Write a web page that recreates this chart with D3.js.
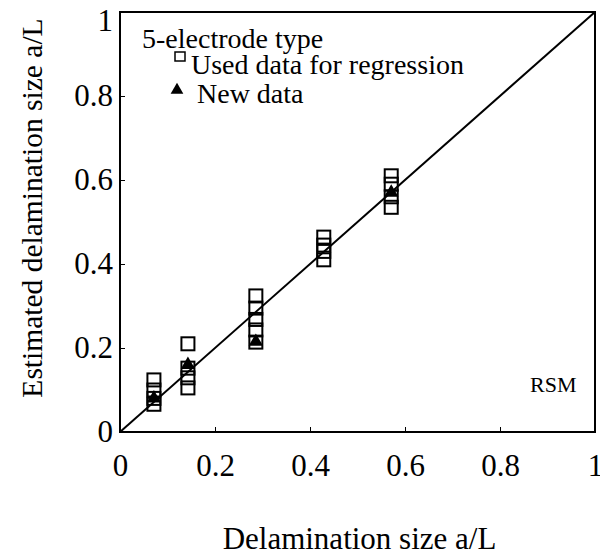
<!DOCTYPE html>
<html>
<head>
<meta charset="utf-8">
<script src="https://cdn.jsdelivr.net/npm/d3@7"></script>
<style>
  body { margin: 0; background: #fff; }
</style>
</head>
<body>
<div id="chart"></div>
<script>
// Delamination size a/L (x) for the regression data and the new data
let usedSize = [0.0714, 0.0714, 0.0714, 0.0714,
                0.143, 0.143, 0.143, 0.143,
                0.286, 0.286, 0.286, 0.286, 0.286,
                0.429, 0.429, 0.429, 0.429,
                0.571, 0.571, 0.571, 0.571];
let usedEstimate = [0.124, 0.100, 0.080, 0.066,
                    0.210, 0.152, 0.129, 0.105,
                    0.324, 0.295, 0.268, 0.243, 0.214,
                    0.464, 0.445, 0.430, 0.410,
                    0.610, 0.590, 0.560, 0.535];
let newSize = [0.0714, 0.143, 0.286, 0.571];
let newEstimate = [0.080, 0.160, 0.215, 0.570];
let tickValues = [0, 0.2, 0.4, 0.6, 0.8, 1];

let serif = "'Liberation Serif', 'Times New Roman', Times, 'DejaVu Serif', serif";

function drawChart(width, height, selector) {

	let margin = { top: 12, left: 120, right: 5, bottom: 126 };
	let chartWidth = width - margin.left - margin.right;
	let chartHeight = height - margin.top - margin.bottom;

	let xPositionScale = d3.scaleLinear()
		.domain([0, 1])
		.range([0, chartWidth]);

	let yPositionScale = d3.scaleLinear()
		.domain([0, 1])
		.range([chartHeight, 0]);

	let svg = d3.select(selector)
		.append("svg")
		.attr("width", width)
		.attr("height", height)
		.attr("font-family", serif);

	let chart = svg.append("g")
		.attr("transform", "translate(" + margin.left + "," + margin.top + ")");

	// Frame
	chart.append("rect")
		.attr("width", chartWidth)
		.attr("height", chartHeight)
		.attr("fill", "none")
		.attr("stroke", "#000")
		.attr("stroke-width", 2);

	let fmt = d => d === 0 || d === 1 ? d3.format("d")(d) : d3.format(".1f")(d);

	// Inward ticks
	let xAxis = d3.axisBottom(xPositionScale)
		.tickValues(tickValues)
		.tickSize(-5)
		.tickPadding(22)
		.tickFormat(fmt);

	chart.append("g")
		.attr("class", "axis x-axis")
		.attr("transform", "translate(0," + chartHeight + ")")
		.call(xAxis);

	let yAxis = d3.axisLeft(yPositionScale)
		.tickValues(tickValues)
		.tickSize(-5)
		.tickPadding(7)
		.tickFormat(fmt);

	chart.append("g")
		.attr("class", "axis y-axis")
		.call(yAxis);

	chart.selectAll(".axis").attr("font-family", serif).attr("font-size", 31);
	chart.selectAll(".axis .domain").remove();
	chart.selectAll(".axis line").attr("stroke", "#000").attr("stroke-width", 1);
	chart.selectAll(".axis text").attr("fill", "#000");

	// Keep the top "1" inside the picture
	chart.selectAll(".y-axis .tick text")
		.filter(d => d === 1)
		.attr("dy", "0.6em");

	// 1:1 line
	let line = d3.line()
		.x(d => xPositionScale(d))
		.y(d => yPositionScale(d));

	chart.append("path")
		.attr("d", line([0, 1]))
		.attr("fill", "none")
		.attr("stroke", "#000")
		.attr("stroke-width", 2);

	// Regression data, open squares
	let sq = 13;
	chart.selectAll(".used")
		.data(usedSize)
		.enter()
		.append("rect")
		.attr("class", "used")
		.attr("x", d => xPositionScale(d) - sq / 2)
		.attr("y", (d, i) => yPositionScale(usedEstimate[i]) - sq / 2)
		.attr("width", sq)
		.attr("height", sq)
		.attr("fill", "none")
		.attr("stroke", "#000")
		.attr("stroke-width", 2);

	// New data, filled triangles
	let triangle = d3.symbol().type(d3.symbolTriangle).size(90);
	chart.selectAll(".new")
		.data(newSize)
		.enter()
		.append("path")
		.attr("class", "new")
		.attr("d", triangle)
		.attr("transform", (d, i) => "translate(" + xPositionScale(d) + "," + yPositionScale(newEstimate[i]) + ")")
		.attr("fill", "#000");

	// Legend
	chart.append("text")
		.attr("x", 22)
		.attr("y", 36)
		.attr("font-size", 28)
		.text("5-electrode type");

	chart.append("rect")
		.attr("x", 55)
		.attr("y", 40)
		.attr("width", 10)
		.attr("height", 9)
		.attr("fill", "none")
		.attr("stroke", "#000")
		.attr("stroke-width", 1.5);

	chart.append("text")
		.attr("x", 71)
		.attr("y", 62)
		.attr("font-size", 28)
		.text("Used data for regression");

	chart.append("path")
		.attr("d", d3.symbol().type(d3.symbolTriangle).size(70))
		.attr("transform", "translate(57,78)")
		.attr("fill", "#000");

	chart.append("text")
		.attr("x", 77)
		.attr("y", 91)
		.attr("font-size", 28)
		.text("New data");

	chart.append("text")
		.attr("x", chartWidth - 65)
		.attr("y", chartHeight - 40)
		.attr("font-size", 22)
		.text("RSM");

	// Axis titles
	svg.append("text")
		.attr("x", margin.left + chartWidth / 2 + 2)
		.attr("y", 549)
		.attr("text-anchor", "middle")
		.attr("font-size", 31)
		.text("Delamination size a/L");

	svg.append("text")
		.attr("transform", "translate(42,208) rotate(-90)")
		.attr("text-anchor", "middle")
		.attr("font-size", 29.5)
		.text("Estimated delamination size a/L");
}

drawChart(600, 558, "#chart");
</script>
</body>
</html>
